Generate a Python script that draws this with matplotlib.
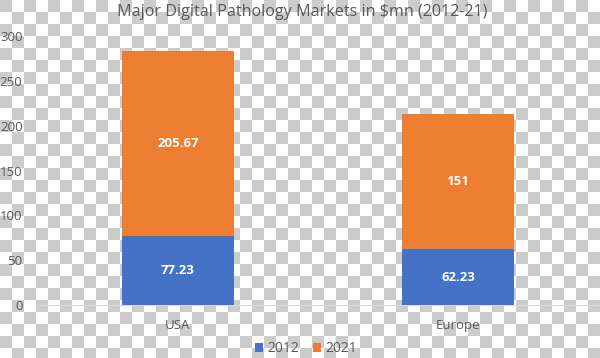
import matplotlib.pyplot as plt
import numpy as np

regions = ["USA", "Europe"]
v2012 = [77.23, 62.23]
v2021 = [205.67, 151]
yticks = [0, 50, 100, 150, 200, 250, 300]

plt.rcParams['font.family'] = ['Open Sans', 'DejaVu Sans']

fig = plt.figure(figsize=(6, 3.58), dpi=100)

# checkered "transparent" backdrop
bg = fig.add_axes([0, 0, 1, 1])
sq = 12
nx, ny = 600 // sq + 1, 358 // sq + 1
board = (np.add.outer(np.arange(ny), np.arange(nx)) % 2)
bg.imshow(board, cmap='gray', vmin=-4, vmax=1, interpolation='nearest',
          extent=[0, nx * sq, ny * sq, 0], aspect='auto')
bg.set_xlim(0, 600)
bg.set_ylim(358, 0)
bg.axis('off')

ax = fig.add_axes([0.063, 0.148, 0.934, 0.751])
ax.patch.set_alpha(0)
x = np.arange(len(regions))
w = 0.4
b1 = ax.bar(x, v2012, w, color='#4472C4', label='2012', zorder=3)
b2 = ax.bar(x, v2021, w, bottom=v2012, color='#ED7D31', label='2021', zorder=3)

for i in range(len(regions)):
    ax.text(x[i], v2012[i] / 2, f"{v2012[i]:g}", ha='center', va='center',
            color='white', fontsize=9.5, fontweight='bold', zorder=4)
    ax.text(x[i], v2012[i] + v2021[i] / 2, f"{v2021[i]:g}", ha='center', va='center',
            color='white', fontsize=9.5, fontweight='bold', zorder=4)

ax.set_xlim(-0.5, 1.5)
ax.set_ylim(0, 300)
ax.set_yticks(yticks)
ax.set_xticks(x)
ax.set_xticklabels(regions)
ax.tick_params(axis='both', length=0, colors='#595959', labelsize=9.5)
ax.tick_params(axis='y', pad=11)
ax.tick_params(axis='x', pad=10)
for s in ['top', 'right', 'left']:
    ax.spines[s].set_visible(False)
ax.spines['bottom'].set_color('#d9d9d9')
ax.spines['bottom'].set_zorder(2)

fig.text(0.503, 0.967, "Major Digital Pathology Markets in $mn (2012-21)", fontsize=11.6,
         color='#595959', ha='center', va='center')

fig.legend(handles=[b1, b2], loc='lower center', bbox_to_anchor=(0.51, -0.03), ncol=2,
           frameon=False, fontsize=10, labelcolor='#595959', handlelength=0.6,
           handleheight=0.6, handletextpad=0.3, columnspacing=1.0)

fig.savefig('out.png', dpi=100)
